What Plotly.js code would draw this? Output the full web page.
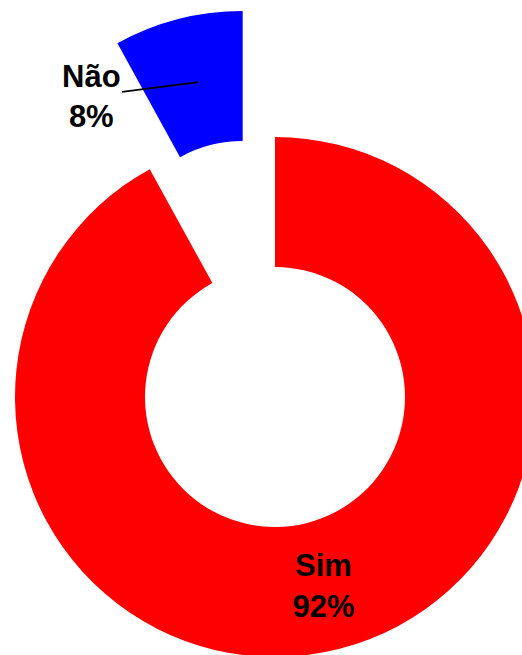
<!DOCTYPE html>
<html>
<head>
<meta charset="utf-8">
<script src="https://cdn.plot.ly/plotly-3.0.1.min.js"></script>
<style>
html, body { margin: 0; padding: 0; width: 522px; height: 655px; overflow: hidden; background: #fff; }
#chart { position: absolute; left: -115px; top: 7px; width: 780px; height: 780px; }
</style>
</head>
<body>
<div id="chart"></div>
<script>
var labels = ['Sim', 'Não'];
var values = [92, 8];
var colors = ['#ff0000', '#0000ff'];
var pulls = [0, 0.5];

var total = values.reduce(function (a, b) { return a + b; }, 0);
var pctText = values.map(function (v) { return Math.round(v / total * 100) + '%'; });

var trace = {
  type: 'pie',
  labels: labels,
  values: values,
  sort: false,
  direction: 'clockwise',
  rotation: 0,
  hole: 0.5,
  pull: pulls,
  marker: { colors: colors, line: { width: 0 } },
  texttemplate: ['%{label}<br>%{percent:.0%}', ''],
  textposition: 'inside',
  insidetextorientation: 'horizontal',
  insidetextfont: { family: 'Liberation Sans, Arial, sans-serif', size: 31, color: '#000000', weight: 'bold' },
  hoverinfo: 'none',
  showlegend: false,
  domain: { x: [0, 1], y: [0, 1] }
};

var layout = {
  width: 780,
  height: 780,
  margin: { l: 0, r: 0, t: 0, b: 0 },
  paper_bgcolor: '#ffffff',
  showlegend: false,
  annotations: [{
    xref: 'paper', yref: 'paper',
    x: 0.4013, y: 0.9038,
    ax: -107, ay: 14,
    text: '<b>' + labels[1] + '</b><br><b>' + pctText[1] + '</b>',
    showarrow: true,
    arrowhead: 0,
    arrowwidth: 1.8,
    arrowcolor: '#000000',
    standoff: 0,
    font: { family: 'Liberation Sans, Arial, sans-serif', size: 31, color: '#000000' }
  }]
};

Plotly.newPlot('chart', [trace], layout, { staticPlot: true, displayModeBar: false });
</script>
</body>
</html>
